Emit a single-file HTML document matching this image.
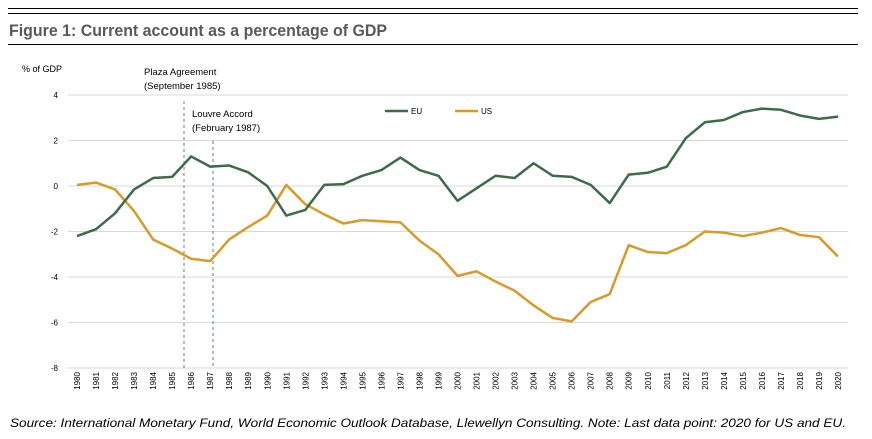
<!DOCTYPE html>
<html><head><meta charset="utf-8"><style>
body{margin:0;background:#fff;width:872px;height:434px;overflow:hidden;font-family:"Liberation Sans",sans-serif}
</style></head><body>
<svg width="872" height="434" font-family="Liberation Sans, sans-serif">
<line x1="8" y1="8.5" x2="858" y2="8.5" stroke="#000" stroke-width="1"/>
<line x1="8" y1="13.5" x2="858" y2="13.5" stroke="#000" stroke-width="1"/>
<text x="9" y="36" font-size="17" font-weight="bold" fill="#595959" textLength="378" lengthAdjust="spacingAndGlyphs">Figure 1: Current account as a percentage of GDP</text>
<line x1="8" y1="44.5" x2="858" y2="44.5" stroke="#000" stroke-width="1"/>
<text x="22" y="72" font-size="9" fill="#000">% of GDP</text>
<g id="grid"></g><g id="ylab"></g><g id="xlab"></g>
<line x1="184" y1="101" x2="184" y2="368" stroke="#5a8a6a" stroke-dasharray="3,3"/>
<line x1="213" y1="141" x2="213" y2="368" stroke="#5a8a6a" stroke-dasharray="3,3"/>
<text x="144" y="75" font-size="9.5">Plaza Agreement</text>
<text x="144" y="89" font-size="9.5">(September 1985)</text>
<text x="192" y="117" font-size="9.5">Louvre Accord</text>
<text x="192" y="131" font-size="9.5">(February 1987)</text>
<g id="series"></g>
<line x1="385" y1="111" x2="408" y2="111" stroke="#3d6b47" stroke-width="2.5"/>
<text x="411" y="114" font-size="8">EU</text>
<line x1="455" y1="111" x2="478" y2="111" stroke="#d99a27" stroke-width="2.5"/>
<text x="481" y="114" font-size="8">US</text>
<text x="10" y="427" font-size="11.5" font-style="italic" textLength="836" lengthAdjust="spacingAndGlyphs">Source: International Monetary Fund, World Economic Outlook Database, Llewellyn Consulting.  Note: Last data point: 2020 for US and EU.</text>
</svg>
<script>
const years=[];for(let y=1980;y<=2020;y++)years.push(y);
const euValues=[-2.2,-1.9,-1.2,-0.15,0.35,0.4,1.3,0.85,0.9,0.6,0.0,-1.3,-1.05,0.05,0.08,0.45,0.7,1.25,0.7,0.45,-0.65,-0.1,0.45,0.35,1.0,0.45,0.4,0.05,-0.75,0.5,0.58,0.85,2.1,2.8,2.9,3.25,3.4,3.35,3.1,2.95,3.05];
const usValues=[0.05,0.15,-0.15,-1.1,-2.35,-2.75,-3.2,-3.3,-2.35,-1.8,-1.3,0.05,-0.8,-1.25,-1.65,-1.5,-1.55,-1.6,-2.4,-3.0,-3.95,-3.75,-4.2,-4.6,-5.25,-5.8,-5.95,-5.1,-4.75,-2.6,-2.9,-2.95,-2.6,-2.0,-2.05,-2.2,-2.05,-1.85,-2.15,-2.25,-3.1];
const yTicks=[4,2,0,-2,-4,-6,-8];
const NS='http://www.w3.org/2000/svg';
const X=i=>77+i*(838-77)/40;
const Y=v=>95+(4-v)*(368-95)/12;
function mk(t,a,p){const e=document.createElementNS(NS,t);for(const k in a)e.setAttribute(k,a[k]);p.appendChild(e);return e;}
const grid=document.getElementById('grid'),yl=document.getElementById('ylab'),xl=document.getElementById('xlab'),ser=document.getElementById('series');
yTicks.forEach(t=>{
 const l=mk('line',{x1:68,x2:848,y1:Y(t),y2:Y(t),stroke:'#d9d9d9','stroke-width':1},grid);
 
 
 const tx=mk('text',{x:58,y:Y(t)+3,'font-size':8,'text-anchor':'end'},yl);tx.textContent=t;
 
 
});
years.forEach((yr,i)=>{
 const tx=mk('text',{x:0,y:0,'font-size':8,'text-anchor':'end',transform:`translate(${X(i)+3},372) rotate(-90)`},xl);tx.textContent=yr;
 
 
});
function line(vals,color,name){
 const p=mk('polyline',{points:vals.map((v,i)=>X(i)+','+Y(v)).join(' '),fill:'none',stroke:color,'stroke-width':2.5,'stroke-linejoin':'round'},ser);
 
 
}
line(usValues,'#d99a27','us-line');
line(euValues,'#3d6b47','eu-line');
</script>
</body></html>
